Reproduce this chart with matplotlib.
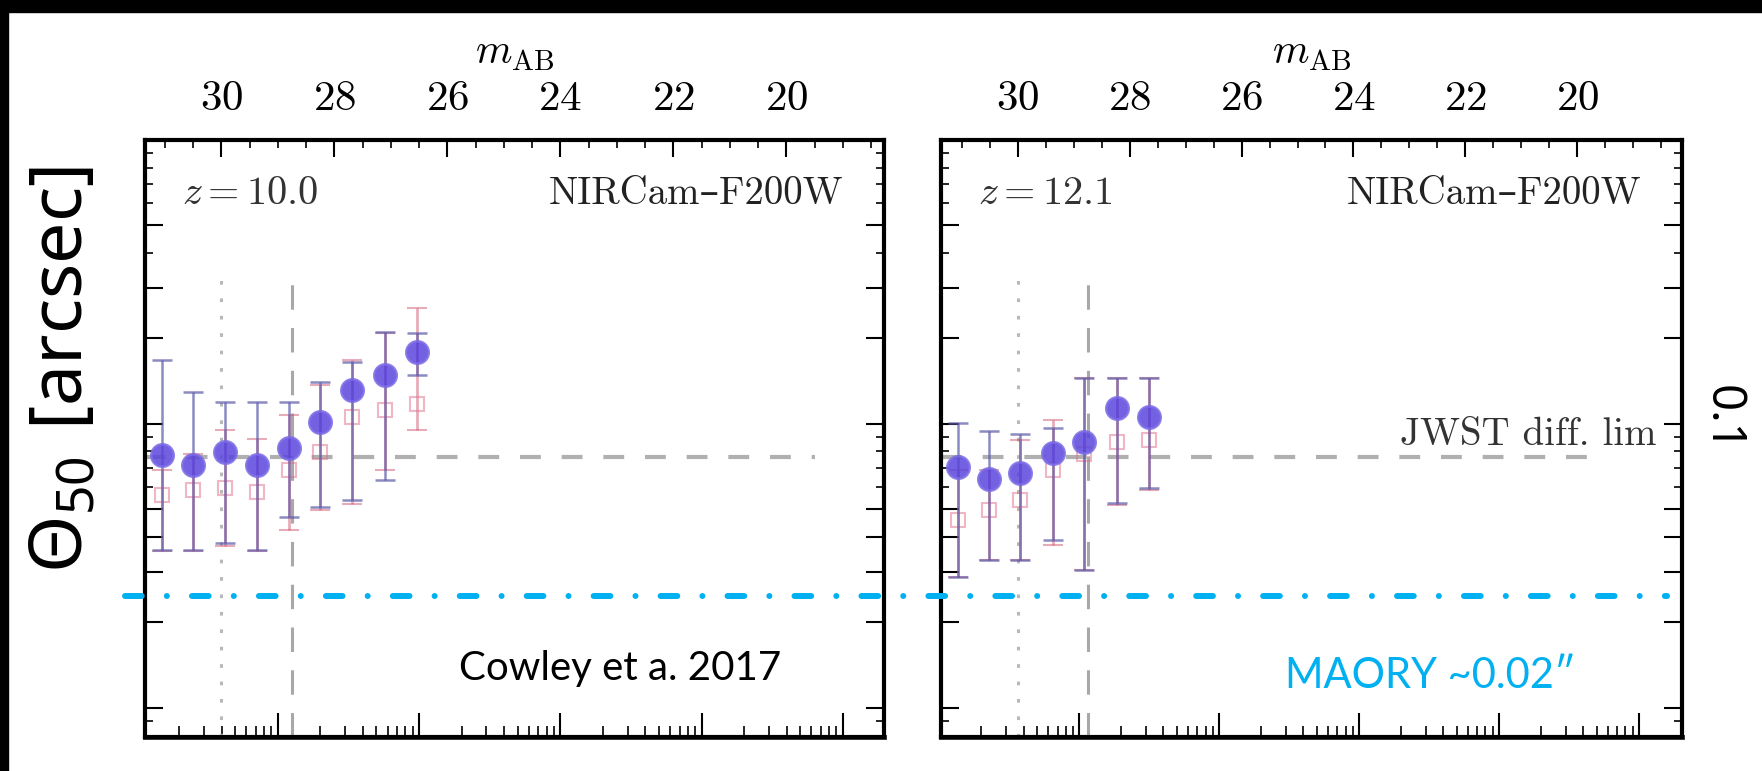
import numpy as np
import matplotlib
matplotlib.use("Agg")
import matplotlib.pyplot as plt
from matplotlib.ticker import LogLocator, FixedLocator, MultipleLocator, NullFormatter
from matplotlib.lines import Line2D
from matplotlib.patches import Rectangle
from matplotlib.transforms import blended_transform_factory

plt.rcParams['font.family'] = ['cmr10', 'DejaVu Serif']
plt.rcParams['mathtext.fontset'] = 'cm'
plt.rcParams['mathtext.rm'] = 'Noto Sans'
plt.rcParams['axes.formatter.use_mathtext'] = True

# ---- data ----
# z = 10.0 panel
m_left = np.array([31.05, 30.50, 29.93, 29.37, 28.81, 28.25, 27.68, 27.10, 26.54])
blue_left = np.array([0.0778, 0.0717, 0.0799, 0.0717, 0.0821, 0.1019, 0.1318, 0.1488, 0.1797])
blue_left_hi = np.array([0.168, 0.130, 0.1198, 0.1198, 0.1198, 0.141, 0.1657, 0.2113, 0.209])
blue_left_lo = np.array([0.0360, 0.0360, 0.0381, 0.0360, 0.0470, 0.0511, 0.0540, 0.0635, 0.1488])
red_left = np.array([0.0562, 0.0586, 0.0595, 0.0576, 0.0689, 0.0797, 0.1058, 0.1120, 0.1176])
red_left_hi = np.array([0.0689, 0.0782, 0.0953, 0.0882, 0.1075, 0.1369, 0.168, 0.209, 0.2563])
red_left_lo = np.array([0.0357, 0.0357, 0.0372, 0.0357, 0.0423, 0.0497, 0.0522, 0.0689, 0.0953])

# z = 12.1 panel
m_right = np.array([31.06, 30.51, 29.95, 29.37, 28.82, 28.22, 27.66])
blue_right = np.array([0.0704, 0.0639, 0.0671, 0.0792, 0.0866, 0.1136, 0.1061])
blue_right_hi = np.array([0.1006, 0.0947, 0.0922, 0.0966, 0.1452, 0.1452, 0.1452])
blue_right_lo = np.array([0.0290, 0.0332, 0.0332, 0.0390, 0.0306, 0.0527, 0.0595])
red_right = np.array([0.0459, 0.0498, 0.0540, 0.0689, 0.0782, 0.0864, 0.0878])
red_right_hi = np.array([0.0689, 0.0689, 0.0878, 0.1033, 0.1452, 0.1452, 0.1452])
red_right_lo = np.array([0.0289, 0.0332, 0.0332, 0.0375, 0.0306, 0.0517, 0.0586])

jwst_lim = 0.0763        # arcsec
jwst_end_mag = 19.5
maory_lim = 0.0247       # arcsec, drawn across both panels
mag_dotted = 30.0
mag_dashed = 28.75
vline_top = 0.35
y_min, y_max = 0.0079, 1.0
y_major = [0.01, 0.02, 0.03, 0.04, 0.05, 0.1, 0.2, 0.3, 0.5, 1.0]
y_minor = [0.009, 0.06, 0.07, 0.08, 0.09, 0.4, 0.6, 0.7, 0.8, 0.9]

W, H = 1762, 771
fig = plt.figure(figsize=(W / 100, H / 100), dpi=100)

CYAN = '#00b0f0'


def panel(rect, xlim, m0, m, b, b_lo, b_hi, r, r_lo, r_hi, zlabel, show_jwst):
    ax = fig.add_axes(rect)
    ax.set_yscale('log')
    ax.set_xlim(*xlim)
    ax.set_ylim(y_min, y_max)

    ax.vlines(mag_dotted, y_min, vline_top, colors='#b8b8b8', linestyles=(0, (1.2, 4.5)), lw=2.2)
    ax.vlines(mag_dashed, y_min, vline_top, colors='#a8a8a8', linestyles=(0, (8, 6)), lw=2.2)
    ax.hlines(jwst_lim, xlim[0], jwst_end_mag, colors='#b0b0b0', linestyles=(0, (5, 5)), lw=3)

    ax.errorbar(m, r, yerr=[r - r_lo, r_hi - r], fmt='s', ms=10, mfc='none', mec='#e07088',
                mew=1.5, ecolor='#d05a70', elinewidth=2, capsize=7, capthick=1.5, alpha=0.5, zorder=3)
    ax.errorbar(m, b, yerr=[b - b_lo, b_hi - b], fmt='none', ecolor='#5a5aa8', elinewidth=1.8,
                capsize=7, capthick=1.8, alpha=0.7, zorder=4)
    ax.plot(m, b, 'o', ms=16, color='#5b45dc', mec='#7a6ae6', mew=2, alpha=0.85, zorder=5)

    # top axis: apparent magnitude
    ax.xaxis.set_major_locator(MultipleLocator(2))
    ax.xaxis.set_minor_locator(MultipleLocator(0.5))
    ax.tick_params(axis='x', which='both', bottom=False, top=True, labelbottom=False,
                   labeltop=True, direction='in', labelsize=31, pad=16)
    ax.tick_params(axis='x', which='major', length=12, width=1.5)
    ax.tick_params(axis='x', which='minor', length=6, width=1.2)
    ax.xaxis.set_label_position('top')
    ax.set_xlabel(r'$m_{\rm AB}$', fontsize=30, labelpad=12)

    ax.yaxis.set_major_locator(FixedLocator(y_major))
    ax.yaxis.set_minor_locator(FixedLocator(y_minor))
    ax.yaxis.set_major_formatter(NullFormatter())
    ax.yaxis.set_minor_formatter(NullFormatter())
    ax.tick_params(axis='y', which='both', left=True, right=True, direction='in')
    ax.tick_params(axis='y', which='major', length=13, width=1.5)
    ax.tick_params(axis='y', which='minor', length=6, width=1.2)

    # bottom axis: luminosity (log), labels cut off in the slide
    sec = ax.secondary_xaxis('bottom', functions=(
        lambda x: 10 ** ((m0 - np.asarray(x)) / 2.5),
        lambda L: m0 - 2.5 * np.log10(np.clip(L, 1e-30, None))))
    sec.xaxis.set_major_locator(LogLocator(base=10, numticks=50))
    sec.xaxis.set_minor_locator(LogLocator(base=10, subs=np.arange(2, 10), numticks=50))
    sec.xaxis.set_major_formatter(NullFormatter())
    sec.xaxis.set_minor_formatter(NullFormatter())
    sec.tick_params(which='both', direction='in')
    sec.tick_params(which='major', length=17, width=1.5)
    sec.tick_params(which='minor', length=8, width=1.2)
    sec.spines['bottom'].set_linewidth(3.5)
    sec.spines['bottom'].set_color('#333333')

    for s in ax.spines.values():
        s.set_linewidth(3)

    ax.text(0.05, 0.91, zlabel, transform=ax.transAxes, fontsize=29, va='center', ha='left',
            color='#333333')
    ax.text(0.945, 0.91, 'NIRCam–F200W', transform=ax.transAxes, fontsize=28, va='center',
            ha='right', color='#222222')
    if show_jwst:
        ax.text(0.965, 0.505, 'JWST diff. lim', transform=ax.transAxes, fontsize=28,
                va='center', ha='right', color='#333333')
    return ax


axL = panel([145 / W, 34 / H, 739 / W, 597 / H], (31.35, 18.27), 24.0, m_left,
            blue_left, blue_left_lo, blue_left_hi, red_left, red_left_lo, red_left_hi,
            r'$z = 10.0$', False)
axR = panel([941 / W, 34 / H, 741 / W, 597 / H], (31.37, 18.13), 23.9, m_right,
            blue_right, blue_right_lo, blue_right_hi, red_right, red_right_lo, red_right_hi,
            r'$z = 12.1$', True)

# MAORY line drawn over both panels
trans = blended_transform_factory(fig.transFigure, axL.transData)
fig.add_artist(Line2D([125 / W, 1667 / W], [maory_lim, maory_lim], transform=trans, color=CYAN,
                      lw=4.3, linestyle=(0, (2.8, 4.2, 0.01, 4.2)), dash_capstyle='round',
                      zorder=5))

# slide annotations
fig.text(62 / W, 1 - 370 / H, r'$\Theta_{50}\ [\mathrm{arcsec}]$', rotation=90, fontsize=53,
         ha='center', va='center', math_fontfamily='custom')
fig.text(1722 / W, 1 - 418 / H, '0.1', rotation=-90, fontsize=34, ha='center', va='center',
         family='Noto Sans')
fig.text(620 / W, 1 - 680 / H, 'Cowley et a. 2017', fontsize=29, ha='center', va='baseline',
         family='Lato')
fig.text(1430 / W, 1 - 688 / H, 'MAORY ~0.02″', fontsize=30, ha='center', va='baseline',
         family='Lato', color=CYAN)

# black slide border
fig.add_artist(Rectangle((0, 1 - 12 / H), 1, 12 / H, transform=fig.transFigure,
                         color='black', zorder=10))
fig.add_artist(Rectangle((0, 0), 8 / W, 1, transform=fig.transFigure, color='black', zorder=10))

fig.savefig('out.png', dpi=100)
